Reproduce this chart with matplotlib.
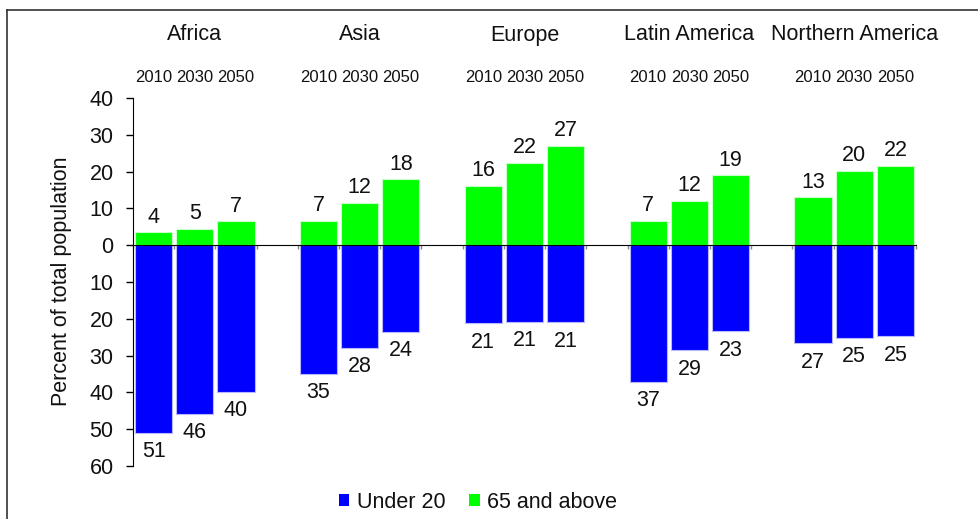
import matplotlib
matplotlib.use("Agg")
import matplotlib.pyplot as plt
import matplotlib.transforms as mtransforms
from matplotlib.lines import Line2D
from matplotlib.patches import Patch

plt.rcParams['font.family'] = ['Liberation Sans', 'DejaVu Sans']

regions = ["Africa", "Asia", "Europe", "Latin America", "Northern America"]
years = ["2010", "2030", "2050"]
old_65 = [[3.5, 4.5, 6.5], [6.7, 11.6, 17.9], [16.1, 22.4, 26.9],
          [6.7, 12.0, 19.0], [13.0, 20.2, 21.6]]
under_20 = [[50.9, 45.8, 39.9], [35.0, 27.8, 23.6], [21.2, 20.9, 21.0],
            [37.1, 28.6, 23.4], [26.7, 25.2, 24.8]]
series_names = ["Under 20", "65 and above"]
y_ticks = [-60, -50, -40, -30, -20, -10, 0, 10, 20, 30, 40]

BLUE = "#0000ff"
GREEN = "#00ff00"
FS = 15.5
TXT = "#111111"

W, H = 979, 519
fig = plt.figure(figsize=(W / 100, H / 100), dpi=100)
ax = fig.add_axes([133 / W, 1 - 466 / H, (916 - 133) / W, (466 - 98) / H])

n_per = len(years)
positions = []
for gi in range(len(regions)):
    for yi in range(n_per):
        positions.append(gi * (n_per + 1) + yi)

flat_old = [v for g in old_65 for v in g]
flat_young = [v for g in under_20 for v in g]

ax.bar(positions, flat_old, width=0.9, color=GREEN, edgecolor="#c8ffc8", linewidth=0.8)
ax.bar(positions, [-v for v in flat_young], width=0.9, color=BLUE, edgecolor="#b8b8ff", linewidth=0.8)

def lab(v):
    return str(int(v + 0.5))

for x, v in zip(positions, flat_old):
    ax.annotate(lab(v), (x, v), xytext=(0, 7), textcoords="offset points",
                ha="center", va="baseline", fontsize=FS, color=TXT)
for x, v in zip(positions, flat_young):
    ax.annotate(lab(v), (x, -v), xytext=(0, -6), textcoords="offset points",
                ha="center", va="top", fontsize=FS, color=TXT)

ax.set_xlim(-0.5, positions[-1] + 0.5)
ax.set_ylim(-60, 40)
ax.set_yticks(y_ticks)
ax.set_yticklabels([str(abs(t)) for t in y_ticks], fontsize=FS, color=TXT)
ax.tick_params(axis="y", direction="out", length=5, width=1, pad=9, color="black")

ax.spines["top"].set_visible(False)
ax.spines["right"].set_visible(False)
ax.spines["left"].set_color("black")
ax.spines["bottom"].set_position(("data", 0))
ax.spines["bottom"].set_color("black")
ax.spines["bottom"].set_zorder(5)
xt = [p - 0.5 for p in range(positions[-1] + 2)]
ax.set_xticks(xt)
ax.set_xticklabels([])
ax.tick_params(axis="x", direction="out", length=3, width=1, color="#888888")

trans = mtransforms.blended_transform_factory(ax.transData, fig.transFigure)
for gi, r in enumerate(regions):
    base = gi * (n_per + 1)
    ax.text(base + 1, 1 - 35 / H, r, transform=trans, ha="center", va="center",
            fontsize=FS, color=TXT)
    for yi, yr in enumerate(years):
        ax.text(base + yi, 1 - 78 / H, yr, transform=trans, ha="center", va="center",
                fontsize=12, color=TXT)

fig.text(62 / W, 1 - 281 / H, "Percent of total population", rotation=90,
         ha="center", va="center", fontsize=FS, color=TXT)

handles = [Patch(facecolor=BLUE, edgecolor="none"), Patch(facecolor=GREEN, edgecolor="none")]
fig.legend(handles, series_names, loc="center", bbox_to_anchor=(478 / W, 1 - 502 / H),
           ncol=2, frameon=False, fontsize=FS, handlelength=0.5, handleheight=0.5,
           handletextpad=0.35, columnspacing=1.1, labelcolor=TXT)

fig.add_artist(Line2D([7 / W, 1], [1 - 10 / H, 1 - 10 / H], transform=fig.transFigure,
                      color="#333333", linewidth=1.2))
fig.add_artist(Line2D([7 / W, 7 / W], [0, 1 - 10 / H], transform=fig.transFigure,
                      color="#333333", linewidth=1.2))

fig.savefig("out.png", dpi=100)
